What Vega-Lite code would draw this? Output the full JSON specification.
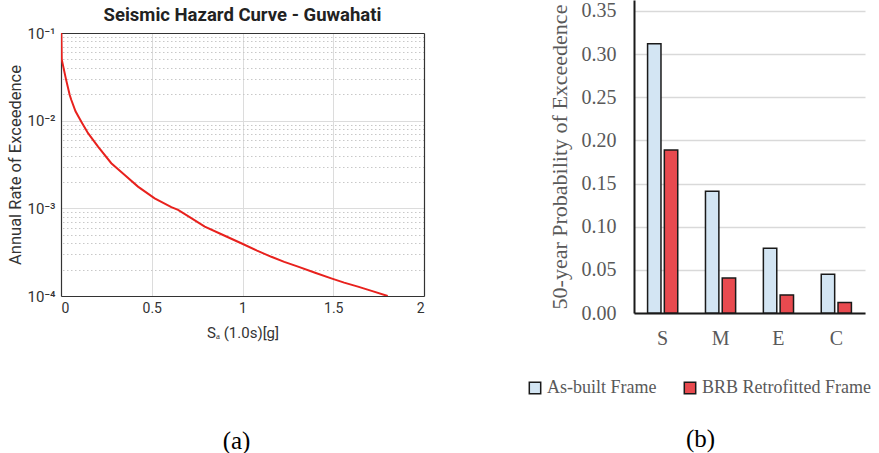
{
  "$schema": "https://vega.github.io/schema/vega-lite/v6.json",
  "padding": {"left": 7, "top": 0, "right": 0, "bottom": 0},
  "config": {"view": {"stroke": null}, "concat": {"spacing": 123}},
  "hconcat": [
    {
      "title": {"text": "(a)", "orient": "bottom", "offset": 89, "font": "Liberation Serif", "fontSize": 25, "fontWeight": "normal", "color": "#000000", "anchor": "middle", "dx": 21},
      "vconcat": [
        {
          "title": {"text": "Seismic Hazard Curve - Guwahati", "font": "Roboto", "fontSize": 18.5, "fontWeight": "bold", "color": "#222222", "offset": 2, "anchor": "middle"},
          "width": 363,
          "height": 263,
          "data": {"values": [
            {"sa": 0.002, "rate": 0.1},
            {"sa": 0.004, "rate": 0.05},
            {"sa": 0.027, "rate": 0.03},
            {"sa": 0.048, "rate": 0.0196},
            {"sa": 0.057, "rate": 0.0172},
            {"sa": 0.08, "rate": 0.0128},
            {"sa": 0.112, "rate": 0.0097},
            {"sa": 0.149, "rate": 0.0072},
            {"sa": 0.204, "rate": 0.00505},
            {"sa": 0.277, "rate": 0.00327},
            {"sa": 0.351, "rate": 0.0024},
            {"sa": 0.424, "rate": 0.00177},
            {"sa": 0.516, "rate": 0.0013},
            {"sa": 0.608, "rate": 0.00103},
            {"sa": 0.645, "rate": 0.00096},
            {"sa": 0.72, "rate": 0.00077},
            {"sa": 0.792, "rate": 0.00062},
            {"sa": 0.89, "rate": 0.0005},
            {"sa": 0.993, "rate": 0.0004},
            {"sa": 1.08, "rate": 0.00033},
            {"sa": 1.159, "rate": 0.00028},
            {"sa": 1.23, "rate": 0.000245},
            {"sa": 1.306, "rate": 0.000216},
            {"sa": 1.4, "rate": 0.000184},
            {"sa": 1.489, "rate": 0.000159},
            {"sa": 1.56, "rate": 0.000142},
            {"sa": 1.636, "rate": 0.000128},
            {"sa": 1.72, "rate": 0.000113},
            {"sa": 1.8, "rate": 0.0001}
          ]},
          "layer": [
            {
              "mark": {"type": "line", "strokeOpacity": 0},
              "encoding": {
                "x": {"field": "sa", "type": "quantitative", "scale": {"domain": [0, 2], "nice": false},
                  "axis": {"orient": "top", "labels": false, "ticks": false, "grid": false, "domain": true, "domainColor": "#333333", "domainWidth": 1.2, "title": null}},
                "y": {"field": "rate", "type": "quantitative", "scale": {"type": "log", "domain": [0.0001, 0.1], "nice": false},
                  "axis": {"orient": "right", "values": [0.0002, 0.0003, 0.0004, 0.0005, 0.0006, 0.0007, 0.0008, 0.0009, 0.002, 0.003, 0.004, 0.005, 0.006, 0.007, 0.008, 0.009, 0.02, 0.03, 0.04, 0.05, 0.06, 0.07, 0.08, 0.09],
                    "labels": false, "ticks": false, "domain": true, "domainColor": "#333333", "domainWidth": 1.2, "grid": true, "gridDash": [1.5, 2.5], "gridColor": "#c8c8c8", "gridWidth": 1, "title": null}}
              }
            },
            {
              "mark": {"type": "line", "color": "#e8211d", "strokeWidth": 2, "clip": true},
              "encoding": {
                "x": {"field": "sa", "type": "quantitative", "scale": {"domain": [0, 2], "nice": false},
                  "axis": {"orient": "bottom", "values": [0, 0.5, 1, 1.5, 2], "format": "~g", "title": "Sₐ (1.0s)[g]", "titleFont": "Roboto", "titleFontSize": 15, "titleFontWeight": "normal", "titleColor": "#333333", "titlePadding": 10,
                    "labelFont": "Roboto", "labelFontSize": 14, "labelColor": "#333333", "labelPadding": 5, "ticks": false, "grid": true, "gridColor": "#dcdcdc", "gridWidth": 1, "domainColor": "#333333", "domainWidth": 1.2}},
                "y": {"field": "rate", "type": "quantitative", "scale": {"type": "log", "domain": [0.0001, 0.1], "nice": false},
                  "axis": {"orient": "left", "values": [0.0001, 0.001, 0.01, 0.1],
                    "labelExpr": "datum.value > 0.05 ? '10⁻¹' : datum.value > 0.005 ? '10⁻²' : datum.value > 0.0005 ? '10⁻³' : '10⁻⁴'",
                    "title": "Annual Rate of Exceedence", "titleFont": "Roboto", "titleFontSize": 16.5, "titleFontWeight": "normal", "titleColor": "#333333", "titlePadding": 4,
                    "labelFont": "Roboto", "labelFontSize": 15, "labelColor": "#333333", "labelPadding": 6, "ticks": false, "grid": true, "gridColor": "#dcdcdc", "gridWidth": 1, "domainColor": "#333333", "domainWidth": 1.2}}
              }
            }
          ],
          "resolve": {"axis": {"x": "independent", "y": "independent"}}
        }
      ]
    },
    {
      "title": {"text": "(b)", "orient": "bottom", "offset": 79, "font": "Liberation Serif", "fontSize": 25, "fontWeight": "normal", "color": "#000000", "anchor": "middle", "dx": -49},
      "width": 231,
      "height": 280,
      "data": {"values": [
        {"level": "S", "frame": "As-built Frame", "p": 0.312},
        {"level": "S", "frame": "BRB Retrofitted Frame", "p": 0.189},
        {"level": "M", "frame": "As-built Frame", "p": 0.141},
        {"level": "M", "frame": "BRB Retrofitted Frame", "p": 0.0405},
        {"level": "E", "frame": "As-built Frame", "p": 0.075},
        {"level": "E", "frame": "BRB Retrofitted Frame", "p": 0.021},
        {"level": "C", "frame": "As-built Frame", "p": 0.045},
        {"level": "C", "frame": "BRB Retrofitted Frame", "p": 0.0123}
      ]},
      "mark": {"type": "bar", "stroke": "#1a1a1a", "strokeWidth": 1.5},
      "encoding": {
        "x": {"field": "level", "type": "nominal", "sort": ["S", "M", "E", "C"], "scale": {"paddingInner": 0.45, "paddingOuter": 0.22},
          "axis": {"title": null, "labelAngle": 0, "labelFont": "Liberation Serif", "labelFontSize": 20, "labelColor": "#595959", "labelPadding": 15, "ticks": false, "domainColor": "#1a1a1a", "domainWidth": 2}},
        "xOffset": {"field": "frame", "type": "nominal", "sort": ["As-built Frame", "BRB Retrofitted Frame"], "scale": {"paddingInner": 0.2, "paddingOuter": 0.05}},
        "y": {"field": "p", "type": "quantitative", "scale": {"domain": [0, 0.3627], "nice": false, "range": [280, -33]},
          "axis": {"values": [0, 0.05, 0.1, 0.15, 0.2, 0.25, 0.3, 0.35], "format": ".2f", "title": "50-year Probability of Exceedence", "titleFont": "Liberation Serif", "titleFontSize": 22, "titleFontWeight": "normal", "titleColor": "#595959", "titlePadding": 10,
            "labelFont": "Liberation Serif", "labelFontSize": 20, "labelColor": "#595959", "labelPadding": 18, "ticks": false, "grid": true, "gridColor": "#d9d9d9", "gridWidth": 1.5, "domainColor": "#1a1a1a", "domainWidth": 2}},
        "color": {"field": "frame", "type": "nominal", "sort": ["As-built Frame", "BRB Retrofitted Frame"], "scale": {"range": ["#d3e5f3", "#e84a4f"]},
          "legend": {"title": null, "orient": "none", "legendX": 465, "legendY": 346, "direction": "horizontal", "symbolType": "square", "symbolSize": 130, "symbolStrokeColor": "#1a1a1a", "symbolStrokeWidth": 1.5, "labelFont": "Liberation Serif", "labelFontSize": 18, "labelColor": "#595959", "labelLimit": 300, "columnPadding": 24, "labelOffset": 3}}
      }
    }
  ]
}
